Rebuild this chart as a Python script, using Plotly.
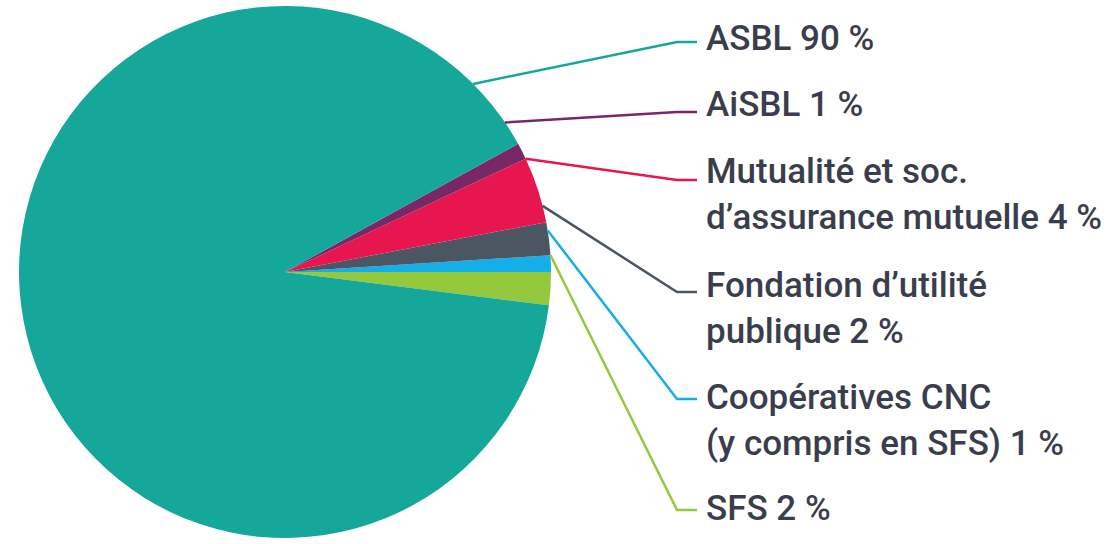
import math
import plotly.graph_objects as go

# ---- data ----
categories = ["SFS", "Coopératives CNC", "Fondation d’utilité", "Mutualité et soc.", "AiSBL", "ASBL"]
label_lines = [
    ["SFS"],
    ["Coopératives CNC", "(y compris en SFS)"],
    ["Fondation d’utilité", "publique"],
    ["Mutualité et soc.", "d’assurance mutuelle"],
    ["AiSBL"],
    ["ASBL"],
]
values = [2, 1, 2, 4, 1, 90]
colors = ["#94c83d", "#14aee8", "#4a5661", "#e7164f", "#7a2767", "#16a79b"]

# ---- layout geometry (pixels) ----
W, H = 1117, 544
cx, cy, r = 285, 272, 266
dom_x = [(cx - r) / W, (cx + r) / W]

def px(x):
    return x / W

def py(y):
    return 1 - y / H

fig = go.Figure(go.Pie(
    labels=categories,
    values=values,
    marker=dict(colors=colors, line=dict(width=0)),
    sort=False,
    direction="counterclockwise",
    rotation=90,
    textinfo="none",
    hoverinfo="label+percent",
    domain=dict(x=dom_x, y=[0, 1]),
    showlegend=False,
))

# label placement (pixels): elbow y for leader line, y of text block centre
elbow_y = [510, 399, 292, 180, 112, 42]
text_y = [508, 420, 308, 195, 104, 39]
anchor_override = {5: 45.0}  # ASBL leader starts near its upper edge

total = sum(values)
cum = 0.0
shapes = []
annotations = []
for i, (v, col) in enumerate(zip(values, colors)):
    a0 = cum / total * 360
    cum += v
    a1 = cum / total * 360
    ang = anchor_override.get(i, (a0 + a1) / 2)
    sx = cx + r * math.cos(math.radians(ang))
    sy = cy - r * math.sin(math.radians(ang))
    ex, ey = 677, elbow_y[i]
    path = f"M {px(sx)} {py(sy)} L {px(ex)} {py(ey)} L {px(697)} {py(ey)}"
    shapes.append(dict(type="path", xref="paper", yref="paper", path=path,
                       line=dict(color=col, width=2.5)))
    lines = list(label_lines[i])
    lines[-1] = f"{lines[-1]} {v} %"
    annotations.append(dict(
        x=px(704), y=py(text_y[i]), xref="paper", yref="paper",
        xanchor="left", yanchor="middle", align="left", showarrow=False,
        text="<br>".join(lines),
        font=dict(family="Roboto", size=35, weight=500, color="#3a3e4c"),
    ))

fig.update_layout(
    width=W, height=H,
    margin=dict(l=0, r=0, t=0, b=0),
    paper_bgcolor="white", plot_bgcolor="white",
    shapes=shapes, annotations=annotations,
)

fig.write_html("out.html")
